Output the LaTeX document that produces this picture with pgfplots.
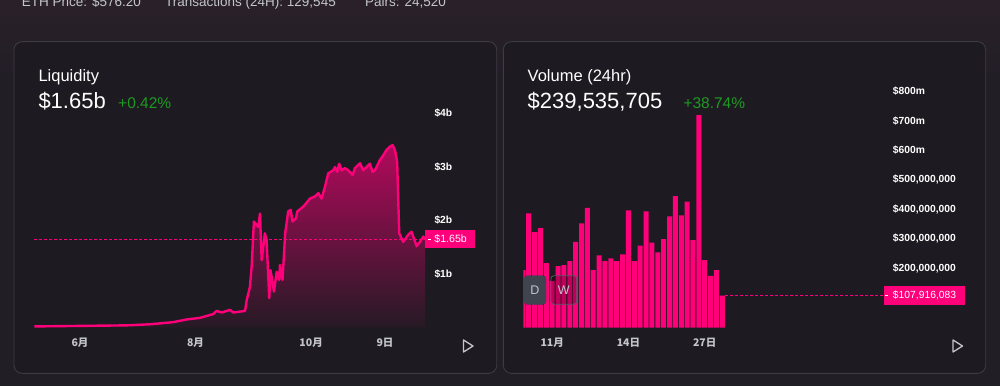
\documentclass[border=0pt]{standalone}
\usepackage{pgfplots}
\pgfplotsset{compat=1.18}
\usepackage{pgfplotstable}
\usepackage{fontspec}
\setmainfont{Liberation Sans}
\newfontfamily\cjk{Noto Sans CJK SC}
\definecolor{uniPink}{HTML}{FF007A}
\definecolor{bgcol}{HTML}{211E26}
\definecolor{bgtop}{HTML}{2A2029}
\definecolor{panelcol}{HTML}{1D1B21}
\definecolor{bordercol}{HTML}{3C3A43}
\definecolor{txtgray}{HTML}{C3C5CB}
\definecolor{upgreen}{HTML}{1E9A22}
\definecolor{btngray}{HTML}{40444F}
\definecolor{btnborder}{HTML}{565A69}

% Liquidity (billions of dollars), x = days since 1 June
\pgfplotstableread{
day liq
-24.1 0.02
0 0.03
24.6 0.04
36.9 0.06
49.2 0.10
56.3 0.15
63.3 0.18
70.3 0.25
72.1 0.31
74.8 0.28
79.2 0.33
80.9 0.28
87.1 0.31
88.0 0.51
89.7 0.76
90.6 1.14
91.8 1.98
94.1 1.88
95.0 2.13
95.9 1.26
97.6 1.76
98.5 1.64
99.9 0.55
100.6 1.07
102.4 0.67
103.8 1.04
105.2 0.89
105.5 1.17
106.9 0.89
108.3 1.76
109.9 2.17
111.2 2.20
112.2 1.98
114.0 2.04
114.7 2.17
117.9 2.26
121.4 2.41
124.0 2.45
125.8 2.51
127.5 2.41
129.3 2.63
131.0 2.88
133.7 2.94
134.6 3.00
135.8 2.91
136.8 3.06
138.1 2.94
139.8 2.98
141.6 2.94
143.9 2.85
145.1 2.98
147.8 3.07
149.5 2.94
151.3 3.00
153.0 3.06
154.4 2.91
155.7 2.94
158.3 3.13
160.1 3.22
161.8 3.32
163.6 3.38
165.0 3.41
166.2 3.32
167.4 3.10
168.5 1.76
170.6 1.60
173.2 1.73
175.0 1.79
177.7 1.52
179.4 1.60
181.2 1.70
182.1 1.65
}\liqtable

% Volume (hundreds of millions of dollars), x = day of November
\pgfplotstableread{
day vol
-4 1.946
-3 3.865
-2 3.23
-1 3.367
0 2.18
1 1.58
2 2.08
3 2.115
4 2.25
5 2.90
6 3.526
7 4.05
8 1.946
9 2.44
10 2.25
11 2.34
12 2.25
13 2.476
14 3.965
15 2.25
16 2.77
17 3.93
18 2.87
19 2.54
20 2.995
21 3.76
22 4.45
23 3.795
24 4.257
25 2.96
26 7.19
27 2.28
28 1.75
29 1.946
30 1.079
}\voltable

% reference levels (current values)
\pgfplotstableread{
day lvl
-24.1 1.65
182.1 1.65
}\liqlevel
\pgfplotstableread{
day lvl
30.5 1.079
57.56 1.079
}\vollevel

\begin{document}
\begin{tikzpicture}[x=1pt,y=1pt]
\clip (0,0) rectangle (1000,386);
\fill[bgcol] (0,0) rectangle (1000,386);
\shade[top color=bgtop, bottom color=bgcol] (0,300) rectangle (1000,386);

% panels
\draw[bordercol, fill=panelcol, rounded corners=8pt, line width=0.9pt] (14,12.7) rectangle (496.7,344.3);
\draw[bordercol, fill=panelcol, rounded corners=8pt, line width=0.9pt] (503.3,12.7) rectangle (985.7,344.3);

% top bar text
\begin{scope}[every node/.style={anchor=base west, inner sep=0pt, text=txtgray, font=\fontsize{13.5}{16}\selectfont}]
\node at (21.7,379.5) {ETH Price: \$576.20};
\node at (165,379.5) {Transactions (24H): 129,545};
\node at (365,379.5) {Pairs: 24,520};
\end{scope}

% titles
\begin{scope}[every node/.style={anchor=base west, inner sep=0pt}]
\node[text=white, font=\fontsize{16.5}{19}\selectfont] at (38.3,304.3) {Liquidity};
\node[text=white, font=\fontsize{22}{26}\selectfont] at (38.3,277) {\$1.65b};
\node[text=upgreen, font=\fontsize{15.5}{18}\selectfont] at (118,277) {+0.42\%};
\node[text=white, font=\fontsize{16.5}{19}\selectfont] at (527.5,304.3) {Volume (24hr)};
\node[text=white, font=\fontsize{22}{26}\selectfont] at (527.5,277) {\$239,535,705};
\node[text=upgreen, font=\fontsize{15.5}{18}\selectfont] at (683.3,277) {+38.74\%};
\end{scope}

% Liquidity chart
\begin{axis}[
  at={(34.3pt,58.5pt)}, anchor=south west,
  scale only axis, width=390.7pt, height=214pt,
  xmin=-24.1, xmax=182.1, ymin=0, ymax=4,
  axis line style={draw=none}, tick style={draw=none}, major tick length=0pt,
  xtick={0,61,122,161}, xticklabels={6月,8月,10月,9日},
  ytick={1,2,3,4}, yticklabels={\$1b,\$2b,\$3b,\$4b},
  yticklabel pos=right,
  yticklabel style={anchor=west, inner sep=0pt, xshift=9.3pt, text=white, font=\bfseries\fontsize{10.3}{12}\selectfont},
  xticklabel style={anchor=base, inner sep=0pt, yshift=-19pt, text=txtgray, font=\cjk\bfseries\fontsize{10.5}{12}\selectfont},
  clip=false,
]
\addplot[draw=none, top color=uniPink!66!panelcol, bottom color=uniPink!4!panelcol] table[x=day,y=liq]{\liqtable} \closedcycle;
\addplot[draw=uniPink, fill=none, line width=1.2pt, dash pattern=on 2.5pt off 2.5pt] table[x=day,y=lvl]{\liqlevel};
\addplot[uniPink, line width=2.4pt, line join=round] table[x=day,y=liq]{\liqtable};
\node[anchor=west, fill=uniPink, text=white, inner sep=0pt, minimum height=18.3pt, font=\fontsize{10.6}{12}\selectfont] at (axis cs:182.1,1.65) {\hspace*{2.6pt}\rule[3pt]{3pt}{0.8pt}\hspace{3.6pt}\$1.65b\hspace*{8.3pt}};
\end{axis}

% Volume chart
\begin{axis}[
  at={(523.3pt,58.5pt)}, anchor=south west,
  scale only axis, width=360.7pt, height=236.4pt,
  xmin=-3.92, xmax=57.56, ymin=0, ymax=8,
  axis line style={draw=none}, tick style={draw=none}, major tick length=0pt,
  xtick={1,14,27}, xticklabels={11月,14日,27日},
  ytick={2,3,4,5,6,7,8},
  yticklabels={{\$200,000,000},{\$300,000,000},{\$400,000,000},{\$500,000,000},{\$600m},{\$700m},{\$800m}},
  yticklabel pos=right,
  yticklabel style={anchor=west, inner sep=0pt, xshift=8.7pt, text=white, font=\bfseries\fontsize{10.3}{12}\selectfont},
  xticklabel style={anchor=base, inner sep=0pt, yshift=-19pt, text=txtgray, font=\cjk\bfseries\fontsize{10.5}{12}\selectfont},
  clip mode=individual,
]
\addplot[ybar, bar width=5pt, bar shift=0pt, fill=uniPink, draw=none] table[x=day,y=vol]{\voltable};
\addplot[draw=uniPink, fill=none, line width=1.2pt, dash pattern=on 2.5pt off 2.5pt] table[x=day,y=lvl]{\vollevel};
\node[anchor=west, fill=uniPink, text=white, inner sep=0pt, minimum height=18.3pt, font=\fontsize{10.35}{12}\selectfont] at (axis cs:57.56,1.079) {\hspace*{0.7pt}\rule[3pt]{3.3pt}{0.8pt}\hspace{4.7pt}\$107,916,083\hspace*{8.7pt}};
\end{axis}

% D / W buttons
\draw[btngray, fill=btngray, rounded corners=3pt] (524,81.7) rectangle (546,110.3);
\node[text=txtgray, font=\fontsize{12.5}{14}\selectfont] at (535,96) {D};
\draw[btnborder, fill=black, fill opacity=0.25, rounded corners=3pt, line width=0.8pt] (551,81.7) rectangle (576.7,110.3);
\node[text=txtgray, font=\fontsize{12.5}{14}\selectfont] at (563.8,96) {W};

% play icons
\draw[txtgray, line width=1.3pt, line join=round] (463.5,46) -- (463.5,34) -- (473,40) -- cycle;
\draw[txtgray, line width=1.3pt, line join=round] (953,46) -- (953,34) -- (962.5,40) -- cycle;
\end{tikzpicture}
\end{document}
